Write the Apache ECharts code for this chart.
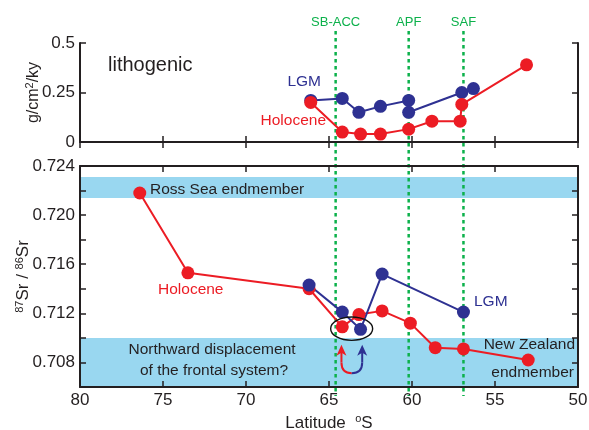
<!DOCTYPE html>
<html>
<head>
<meta charset="utf-8">
<script src="https://cdn.jsdelivr.net/npm/echarts@6/dist/echarts.min.js"></script>
<style>
html, body { margin: 0; padding: 0; background: #fff; }
#chart { width: 589px; height: 430px; }
</style>
</head>
<body>
<div id="chart"></div>
<script>
// lithogenic flux, top panel (g/cm2/ky)
const lithoLgmLat = [66.1, 64.2, 63.2, 61.9, 60.2, 60.2, 57.0, 56.3];
const lithoLgmVal = [0.21, 0.22, 0.15, 0.18, 0.21, 0.15, 0.25, 0.27];
const lithoHolLat = [66.1, 64.2, 63.1, 61.9, 60.2, 58.8, 57.1, 57.0, 53.1];
const lithoHolVal = [0.20, 0.05, 0.04, 0.04, 0.065, 0.105, 0.105, 0.19, 0.39];

// 87Sr/86Sr, bottom panel
const srHolLat = [76.4, 73.5, 66.2, 64.2, 63.2, 61.8, 60.1, 58.6, 56.9, 53.0];
const srHolVal = [0.7218, 0.7153, 0.7140, 0.7109, 0.7119, 0.7122, 0.7112, 0.7092, 0.7091, 0.7082];
const srLgmLat = [66.2, 64.2, 63.1, 61.8, 56.9];
const srLgmVal = [0.7143, 0.7121, 0.7107, 0.7152, 0.7121];

// fronts and endmember bands
const frontNames = ['SB-ACC', 'APF', 'SAF'];
const frontLat = [64.6, 60.2, 56.9];
const rossBand = [0.7214, 0.7231];
const nzBand = [0.706, 0.710];

// tick labels
const srTickLabels = ['0.708', '0.712', '0.716', '0.720', '0.724'];
const lithoTickLabels = ['0', '0.25', '0.5'];

const RED = '#ec1c24';
const BLUE = '#2e3192';
const GREEN = '#0cb14b';
const INK = '#231f20';
const BAND = '#99d7f0';
const FONT = '"Liberation Sans", Arial, sans-serif';

const zip = (a, b) => a.map((v, i) => [v, b[i]]);

const chart = echarts.init(document.getElementById('chart'));

function xAx(grid, pos, labels) {
    return {
        type: 'value', gridIndex: grid, position: pos, min: 50, max: 80, interval: 5,
        inverse: true, z: 5,
        axisLine: { lineStyle: { color: INK, width: 2 } },
        axisTick: { inside: true, length: 6, lineStyle: { color: INK, width: 1.5 } },
        axisLabel: { show: labels, color: INK, fontSize: 17, fontFamily: FONT, margin: 5,
            showMinLabel: true, showMaxLabel: true },
        splitLine: { show: false }
    };
}

function yAx(grid, pos, min, max, step, labels, fmt) {
    return {
        type: 'value', gridIndex: grid, position: pos, min: min, max: max, interval: step, z: 5,
        axisLine: { lineStyle: { color: INK, width: 2 } },
        axisTick: { inside: true, length: 6, lineStyle: { color: INK, width: 1.5 } },
        axisLabel: { show: labels, color: INK, fontSize: 17, fontFamily: FONT, margin: 5,
            showMinLabel: true, showMaxLabel: true, formatter: fmt },
        splitLine: { show: false }
    };
}

const lithoFmt = v => {
    const s = String(+v.toFixed(2));
    return lithoTickLabels.includes(s) ? s : '';
};
const srFmt = v => {
    const s = v.toFixed(3);
    return srTickLabels.includes(s) ? s : '';
};

function dataSeries(name, xi, yi, lat, val, color) {
    return {
        name: name, type: 'line', xAxisIndex: xi, yAxisIndex: yi, z: 3,
        data: zip(lat, val),
        symbol: 'circle', symbolSize: 13, showSymbol: true,
        lineStyle: { color: color, width: 2 },
        itemStyle: { color: color },
        emphasis: { disabled: true }
    };
}

const supStyle = { fontSize: 11, fontFamily: FONT, color: INK, padding: [0, 0, 8, 0] };

const yLeftTop = yAx(0, 'left', 0, 0.5, 0.25, true, lithoFmt);
yLeftTop.name = 'g/cm{sup|2}/ky';
yLeftTop.nameLocation = 'middle';
yLeftTop.nameGap = 37;
yLeftTop.nameMoveOverlap = false;
yLeftTop.nameTextStyle = { color: INK, fontSize: 16, fontFamily: FONT, rich: { sup: supStyle } };

const yLeftBot = yAx(1, 'left', 0.706, 0.724, 0.002, true, srFmt);
yLeftBot.name = '{sup|87}Sr / {sup|86}Sr';
yLeftBot.nameLocation = 'middle';
yLeftBot.nameGap = 47;
yLeftBot.nameMoveOverlap = false;
yLeftBot.nameTextStyle = { color: INK, fontSize: 17, fontFamily: FONT, rich: { sup: supStyle } };

const xBot = xAx(1, 'bottom', true);
xBot.name = 'Latitude  {sup|o}S';
xBot.nameLocation = 'middle';
xBot.nameGap = 26;
xBot.nameMoveOverlap = false;
xBot.nameTextStyle = { color: INK, fontSize: 17, fontFamily: FONT, verticalAlign: 'top',
    rich: { sup: { fontSize: 11, fontFamily: FONT, color: INK, padding: [0, 0, 9, 0] } } };

chart.setOption({
    animation: false,
    backgroundColor: '#fff',
    textStyle: { fontFamily: FONT },
    grid: [
        { left: 80, right: 11, top: 43, height: 99, outerBoundsMode: 'none', containLabel: false },
        { left: 80, right: 11, top: 166, height: 221, outerBoundsMode: 'none', containLabel: false }
    ],
    xAxis: [xAx(0, 'bottom', false), xAx(0, 'top', false), xBot, xAx(1, 'top', false)],
    yAxis: [yLeftTop, yAx(0, 'right', 0, 0.5, 0.25, false), yLeftBot,
        yAx(1, 'right', 0.706, 0.724, 0.002, false)],
    series: [
        {
            name: 'bands', type: 'line', xAxisIndex: 2, yAxisIndex: 2, z: 1, data: [],
            markArea: {
                silent: true,
                itemStyle: { color: BAND },
                data: [
                    [{ yAxis: rossBand[0] }, { yAxis: rossBand[1] }],
                    [{ yAxis: nzBand[0] }, { yAxis: nzBand[1] }]
                ]
            }
        },
        dataSeries('LGM', 0, 0, lithoLgmLat, lithoLgmVal, BLUE),
        dataSeries('Holocene', 0, 0, lithoHolLat, lithoHolVal, RED),
        dataSeries('Holocene', 2, 2, srHolLat, srHolVal, RED),
        dataSeries('LGM', 2, 2, srLgmLat, srLgmVal, BLUE)
    ]
});

// annotations placed from data coordinates
const px = (lat, v) => chart.convertToPixel({ xAxisIndex: 2, yAxisIndex: 2 }, [lat, v]);
const topY = chart.convertToPixel({ yAxisIndex: 0 }, 0.5);
const botY = chart.convertToPixel({ yAxisIndex: 2 }, 0.706);

const graphics = [];
frontLat.forEach((lat, i) => {
    const x = chart.convertToPixel({ xAxisIndex: 2 }, lat);
    graphics.push({
        type: 'line', z: 2, silent: true,
        shape: { x1: x, y1: topY - 12, x2: x, y2: botY + 9 },
        style: { stroke: GREEN, lineWidth: 2.5, lineDash: [3.5, 3.5] }
    });
    graphics.push({
        type: 'text', z: 6, x: x, y: topY - 21,
        style: { text: frontNames[i], fill: GREEN, font: '13px ' + FONT, align: 'center', verticalAlign: 'middle' }
    });
});

// ellipse around the two southward points
const eL = px(64.9, 0.71075), eR = px(62.37, 0.71075), eT = px(63.6, 0.7117), eB = px(63.6, 0.7098);
graphics.push({
    type: 'ellipse', z: 6, silent: true,
    shape: { cx: (eL[0] + eR[0]) / 2, cy: (eT[1] + eB[1]) / 2, rx: (eR[0] - eL[0]) / 2, ry: (eB[1] - eT[1]) / 2 },
    style: { fill: null, stroke: '#111', lineWidth: 1.4 }
});

// U-shaped arrows (red then blue)
const rTip = px(64.25, 0.70944), rBend = px(64.25, 0.7080);
const uBot = px(63.63, 0.70713), bBend = px(63.0, 0.7080), bTip = px(63.0, 0.70944);
graphics.push({
    type: 'line', z: 6, silent: true,
    shape: { x1: rTip[0], y1: rTip[1] + 6, x2: rBend[0], y2: rBend[1] },
    style: { stroke: RED, lineWidth: 2 }
});
graphics.push({
    type: 'bezierCurve', z: 6, silent: true,
    shape: { x1: rBend[0], y1: rBend[1], cpx1: rBend[0], cpy1: uBot[1], x2: uBot[0], y2: uBot[1] },
    style: { fill: null, stroke: RED, lineWidth: 2 }
});
graphics.push({
    type: 'bezierCurve', z: 6, silent: true,
    shape: { x1: uBot[0], y1: uBot[1], cpx1: bBend[0], cpy1: uBot[1], x2: bBend[0], y2: bBend[1] },
    style: { fill: null, stroke: BLUE, lineWidth: 2 }
});
graphics.push({
    type: 'line', z: 6, silent: true,
    shape: { x1: bBend[0], y1: bBend[1], x2: bTip[0], y2: bTip[1] + 6 },
    style: { stroke: BLUE, lineWidth: 2 }
});
[[rTip, RED], [bTip, BLUE]].forEach(([t, c]) => {
    graphics.push({
        type: 'polygon', z: 6, silent: true,
        shape: { points: [[t[0], t[1]], [t[0] + 5, t[1] + 11], [t[0], t[1] + 8], [t[0] - 5, t[1] + 11]] },
        style: { fill: c }
    });
});

// text labels
function label(text, x, y, color, size, align) {
    graphics.push({
        type: 'text', z: 6, x: x, y: y,
        style: { text: text, fill: color, font: size + 'px ' + FONT, align: align || 'left', verticalAlign: 'middle' }
    });
}
label('lithogenic', 108, 65, INK, 20);
label('LGM', 321, 82, BLUE, 15.5, 'right');
label('Holocene', 326, 121, RED, 15.5, 'right');
label('Ross Sea endmember', 150, 190, INK, 15.5);
label('Holocene', 158, 290, RED, 15.5);
label('LGM', 474, 302, BLUE, 15.5);
label('Northward displacement', 212, 350, INK, 15.5, 'center');
label('of the frontal system?', 214, 371, INK, 15.5, 'center');
label('New Zealand', 575, 345, INK, 15.5, 'right');
label('endmember', 574, 373, INK, 15.5, 'right');

chart.setOption({ graphic: graphics });
</script>
</body>
</html>
